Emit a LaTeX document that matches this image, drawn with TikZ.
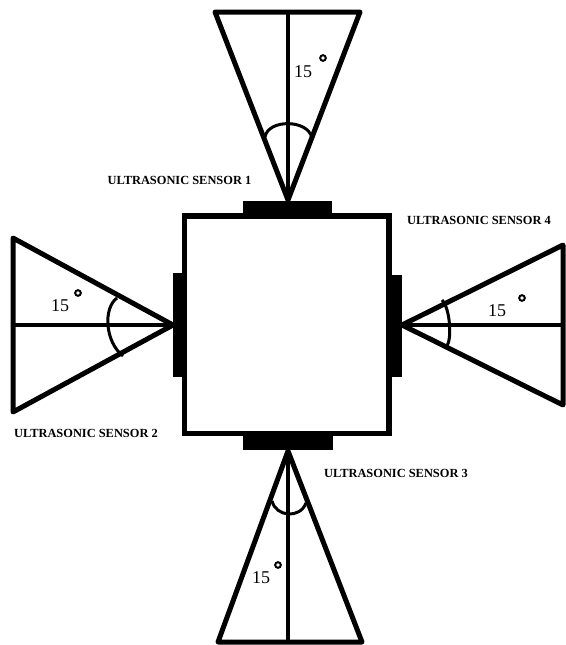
\documentclass[tikz,border=0pt]{standalone}
\usepackage{fontspec}
\setmainfont{Liberation Serif}
\begin{document}
\begin{tikzpicture}[x=1pt,y=-1pt,
  cone/.style={line width=5pt,line join=round,line cap=round},
  axis/.style={line width=4pt},
  anglemark/.style={line width=3pt},
  frame/.style={line width=5.5pt},
  mount/.style={fill=black},
  caption/.style={font=\fontsize{12.4}{14}\selectfont\bfseries,inner sep=0pt},
  angletext/.style={font=\fontsize{18}{20}\selectfont,inner sep=0pt},
  degree/.style={line width=2pt}]
\useasboundingbox (0,0) rectangle (565,645);

% housing
\draw[frame] (184.5,216) rectangle (389,433.5);
% sensor mounts
\fill[mount] (243,201) rectangle (332,216);
\fill[mount] (243,433.5) rectangle (333,450);
\fill[mount] (173,273) rectangle (184.5,377);
\fill[mount] (389,275) rectangle (402,377);

% apex points of the four beams
\coordinate (a1) at (288,200);
\coordinate (a2) at (173,325);
\coordinate (a3) at (288,451);
\coordinate (a4) at (402,325);

% sensor 1 (up)
\draw[cone] (a1) -- (215,12) -- (360,12) -- cycle;
\draw[axis] (a1) -- (288,12);
\draw[anglemark] (265,137) .. controls (268,119) and (308,119) .. (312,138);
% sensor 2 (left)
\draw[cone] (a2) -- (13,238) -- (13,412) -- cycle;
\draw[axis] (a2) -- (13,325);
\draw[anglemark] (117,298) .. controls (103,308) and (105,342) .. (123,356);
% sensor 3 (down)
\draw[cone] (a3) -- (218,642) -- (362,642) -- cycle;
\draw[axis] (a3) -- (288,642);
\draw[anglemark] (272,501) .. controls (276,517) and (300,519) .. (306,503);
% sensor 4 (right)
\draw[cone] (a4) -- (563,245) -- (563,405) -- cycle;
\draw[axis] (a4) -- (563,325);
\draw[anglemark] (442,300) .. controls (450,308) and (452,338) .. (447,346);

% beam angle labels
\node[angletext] (t1) at (303,72) {15};
\node[angletext] (t2) at (60,306) {15};
\node[angletext] (t3) at (261,578) {15};
\node[angletext] (t4) at (497,311) {15};
\draw[degree] (323,58) circle (2.8);
\draw[degree] (78,293) circle (2.8);
\draw[degree] (278,565) circle (2.8);
\draw[degree] (522,298) circle (2.8);

% sensor captions
\node[caption] (c1) at (179.5,180) {ULTRASONIC SENSOR 1};
\node[caption] (c2) at (86,433) {ULTRASONIC SENSOR 2};
\node[caption] (c3) at (396,473) {ULTRASONIC SENSOR 3};
\node[caption] (c4) at (479,220) {ULTRASONIC SENSOR 4};
\end{tikzpicture}
\end{document}
